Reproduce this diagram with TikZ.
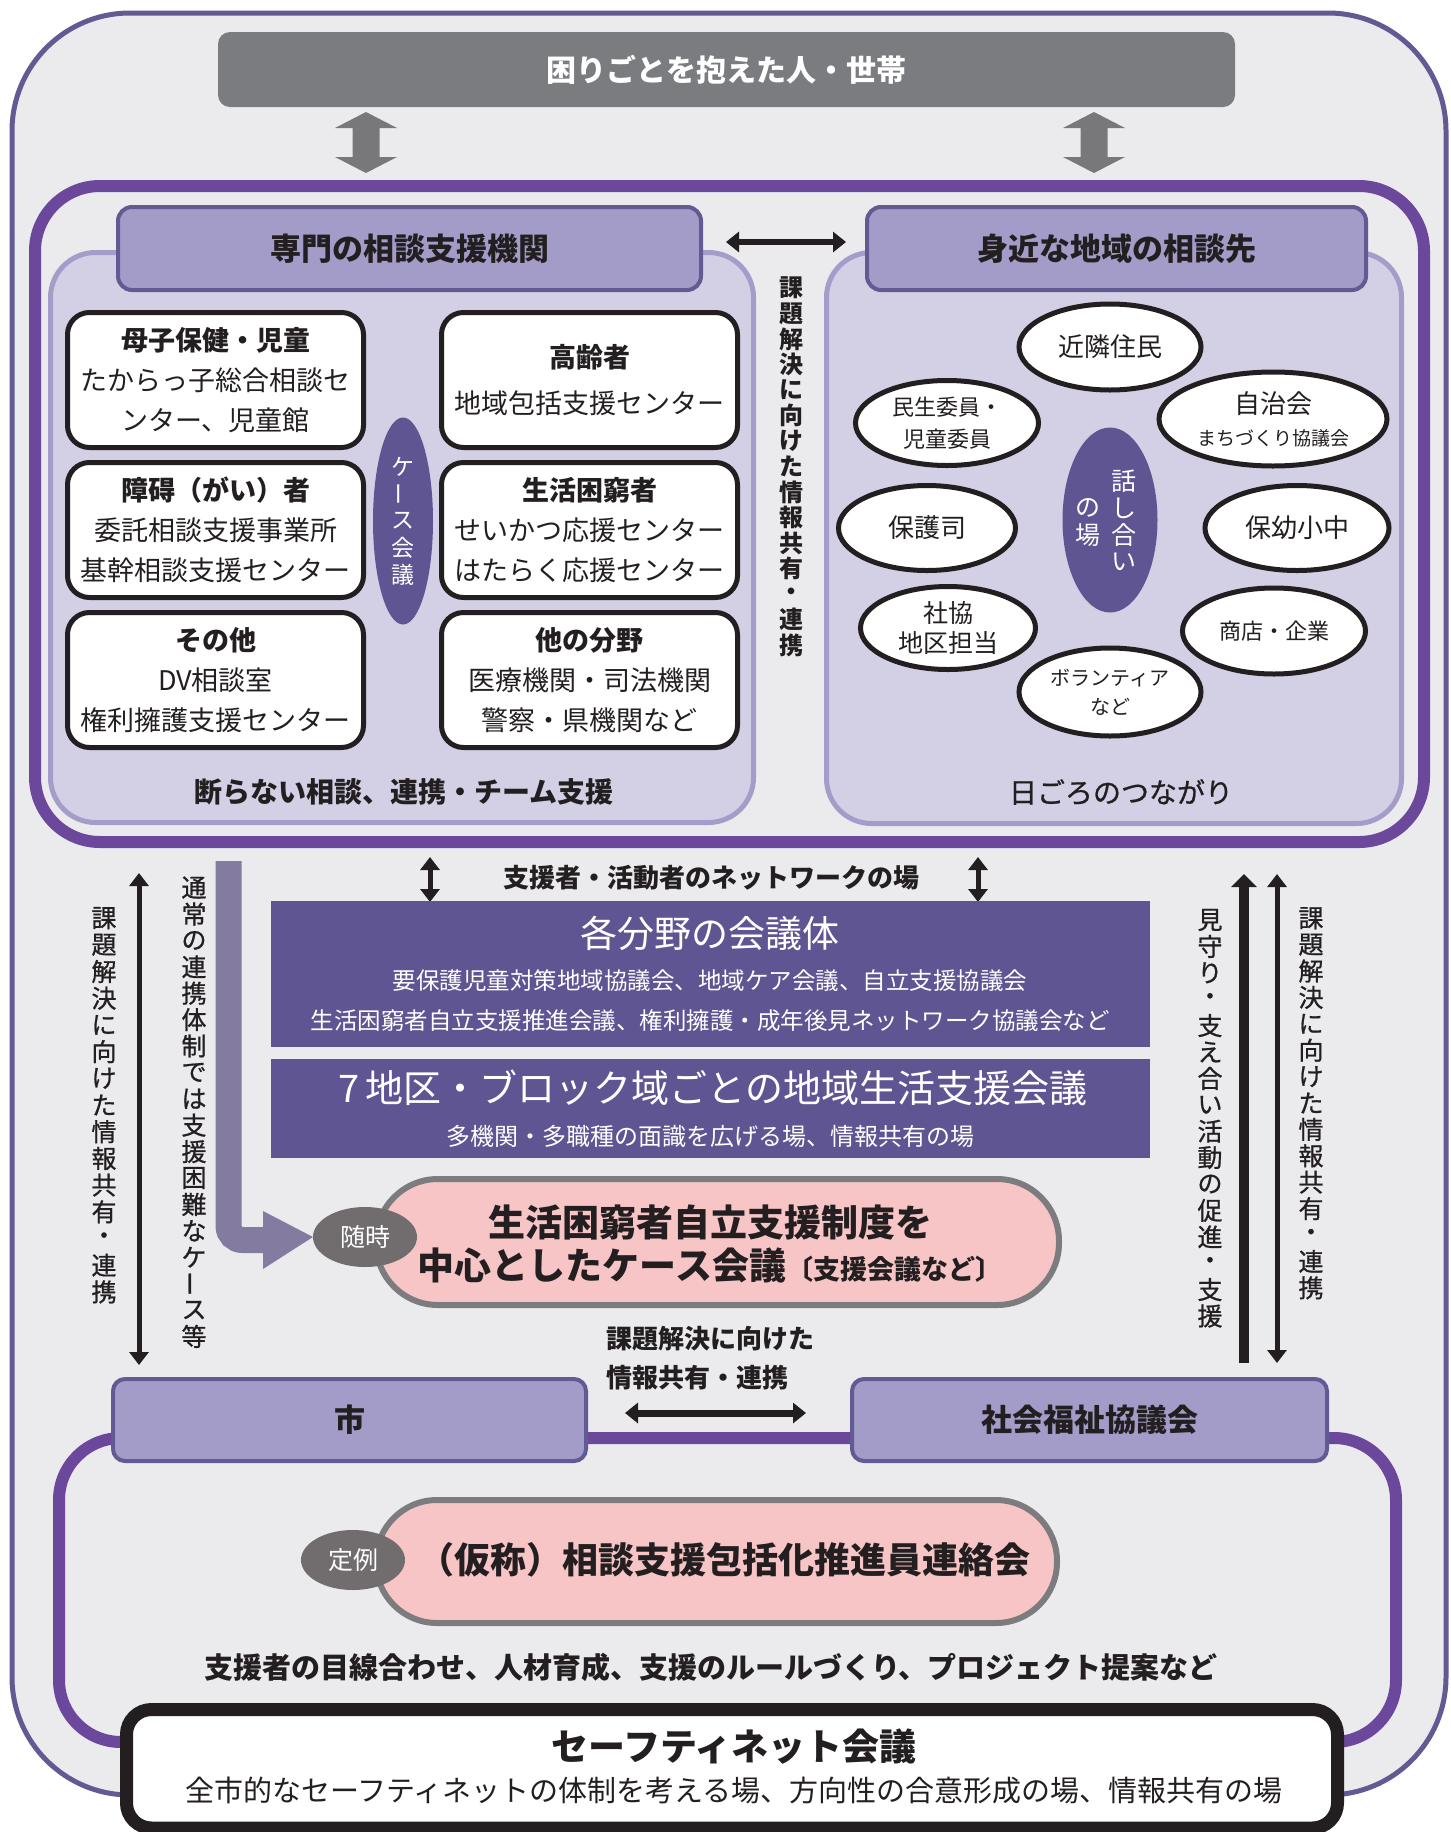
\documentclass[tikz,border=0pt]{standalone}
\usepackage{fontspec}
\usepackage{graphicx}
\setmainfont{Noto Sans CJK JP}
\newfontfamily\medfont{Noto Sans CJK JP}[FakeBold=0.8]
\usetikzlibrary{shapes.geometric,arrows.meta}

\definecolor{bg}{HTML}{EBEBEE}
\definecolor{outerline}{HTML}{615A93}
\definecolor{framep}{HTML}{6B489B}
\definecolor{panelfill}{HTML}{D3D0E6}
\definecolor{panelline}{HTML}{A59DC9}
\definecolor{hdrfill}{HTML}{A49CC8}
\definecolor{hdrline}{HTML}{615A93}
\definecolor{deep}{HTML}{5F5592}
\definecolor{graybox}{HTML}{7B7C80}
\definecolor{grayarrow}{HTML}{78787B}
\definecolor{pinkfill}{HTML}{F8C5C7}
\definecolor{pinkline}{HTML}{7C7C7F}
\definecolor{tagfill}{HTML}{716C6D}
\definecolor{larrow}{HTML}{847BA1}
\definecolor{ink}{HTML}{231F20}

\newcommand\fs[2]{\fontsize{#1}{#2}\selectfont}
\newdimen\vpitch
\def\vtaux#1{\ifx\relax#1\else\hbox to 1.1em{\hss\vbox to\vpitch{\vss\hbox{#1}\vss}\hss}\expandafter\vtaux\fi}
\newcommand\vtext[2]{\vpitch=#1\relax\vbox{\offinterlineskip\vtaux#2\relax}}
\newcommand\vbar{\rotatebox[origin=c]{90}{ー}}
\newcommand\garrow[1]{\fill[grayarrow] (#1,112) -- ++(31,16) -- ++(-17.5,0) -- ++(0,29) -- ++(17.5,0) -- (#1,173) -- ++(-31,-16) -- ++(17.5,0) -- ++(0,-29) -- ++(-17.5,0) -- cycle;}

\tikzset{
 hdr/.style={draw=hdrline, fill=hdrfill, line width=4pt, rounded corners=14pt, font=\bfseries\fs{31}{36}, text=ink},
 wbox/.style={draw=ink, fill=white, line width=5pt, rounded corners=22pt, minimum width=296pt, minimum height=135pt, align=center, font=\fs{27}{40}, text=ink},
 bub/.style={ellipse, draw=ink, fill=white, line width=5pt, align=center, text=ink},
 deepbox/.style={fill=deep, minimum width=879pt},
 pinkbox/.style={draw=pinkline, fill=pinkfill, line width=6pt, rounded corners=62pt},
 tag/.style={ellipse, fill=tagfill, minimum width=104pt, minimum height=60pt, text=white, font=\fs{25}{30}},
 blk/.style={draw=ink, line width=6pt, arrows={Triangle[width=20pt,length=13pt]-Triangle[width=20pt,length=13pt]}},
 blksmall/.style={draw=ink, line width=5pt, arrows={Triangle[width=19pt,length=13pt]-Triangle[width=19pt,length=13pt]}},
 blkup/.style={draw=ink, line width=10pt, arrows={-Triangle[width=25pt,length=13pt]}},
 vt/.style={text=ink, font=\medfont\fs{25}{27}},
 wt/.style={text=white},
 bt/.style={text=ink},
}

\begin{document}
\begin{tikzpicture}[x=1pt,y=-1pt, every node/.style={inner sep=0pt, outer sep=0pt}]
\useasboundingbox (0,0) rectangle (1451,1832);
\fill[white] (0,0) rectangle (1451,1832);

% outer frame
\draw[outerline, line width=5pt, fill=bg, rounded corners=118pt] (12,13) rectangle (1446,1795);

% top box
\node[fill=graybox, rounded corners=12pt, minimum width=1017pt, minimum height=75pt, text=white, font=\bfseries\fs{30}{34}] (people) at (726.5,69.5) {困りごとを抱えた人・世帯};
\garrow{366}
\garrow{1094}

% middle frame
\draw[framep, line width=12pt, rounded corners=65pt, fill=bg] (35,186) rectangle (1424,842);
\draw[panelline, fill=panelfill, line width=5pt, rounded corners=45pt] (50.5,252.5) rectangle (753.5,822.5);
\draw[panelline, fill=panelfill, line width=5pt, rounded corners=45pt] (826.5,252.5) rectangle (1401.5,823.5);

\node[hdr, minimum width=583pt, minimum height=83pt] (hL) at (409.5,248.5) {専門の相談支援機関};
\node[hdr, minimum width=499pt, minimum height=83pt] (hR) at (1116.5,248.5) {身近な地域の相談先};
\coordinate (aL) at (726,242);
\coordinate (aR) at (846,242);
\draw[blk] (aL) -- (aR);

\node[bt, font=\bfseries\fs{24}{26}] (vmid) at (791,466.5) {\vtext{25.5pt}{課題解決に向けた情報共有・連携}};

% left panel boxes
\node[wbox] (b1) at (215.5,380) {{\bfseries 母子保健・児童}\\たからっ子総合相談セ\\ンター、児童館};
\node[wbox] (b2) at (215.5,530) {{\bfseries 障碍（がい）者}\\委託相談支援事業所\\基幹相談支援センター};
\node[wbox] (b3) at (215.5,680) {{\bfseries その他}\\DV相談室\\権利擁護支援センター};
\node[wbox] (b4) at (589.5,380) {{\bfseries 高齢者}\\[6pt]地域包括支援センター};
\node[wbox] (b5) at (589.5,530) {{\bfseries 生活困窮者}\\せいかつ応援センター\\はたらく応援センター};
\node[wbox] (b6) at (589.5,680) {{\bfseries 他の分野}\\医療機関・司法機関\\警察・県機関など};
\node[ellipse, fill=deep, minimum width=60pt, minimum height=207pt, text=white, font=\fs{23}{27}] (case) at (403,521) {\vtext{27pt}{ケ\vbar ス会議}};
\node[bt, font=\bfseries\fs{28}{32}] (leftfoot) at (404,792) {断らない相談、連携・チーム支援};

% right panel bubbles
\node[bub, minimum width=182pt, minimum height=86pt, font=\fs{26}{30}] (e1) at (1110,347) {近隣住民};
\node[bub, minimum width=183pt, minimum height=85pt, font=\fs{22}{32}] (e2) at (947,423) {民生委員・\\児童委員};
\node[bub, minimum width=228pt, minimum height=94pt, font=\fs{22}{32}] (e3) at (1273,419) {{\fs{26}{32}自治会}\\{\fs{19}{32}まちづくり協議会}};
\node[bub, minimum width=177pt, minimum height=85pt, font=\fs{26}{30}] (e4) at (927,528) {保護司};
\node[bub, minimum width=184pt, minimum height=85pt, font=\fs{26}{30}] (e5) at (1297,528) {保幼小中};
\node[bub, minimum width=175pt, minimum height=83pt, font=\fs{25}{30}] (e6) at (948,628) {社協\\地区担当};
\node[bub, minimum width=183pt, minimum height=86pt, font=\fs{22}{26}] (e7) at (1274,631) {商店・企業};
\node[bub, minimum width=182pt, minimum height=88pt, font=\fs{20}{29}] (e8) at (1110,692) {ボランティア\\など};
\node[ellipse, fill=deep, minimum width=95pt, minimum height=185pt] (talk) at (1110,520) {};
\node[wt, font=\fs{25}{27}] (talkA) at (1124,521.5) {\vtext{27pt}{話し合い}};
\node[wt, font=\fs{25}{27}] (talkB) at (1088,521.5) {\vtext{27pt}{の場}};
\node[bt, font=\medfont\fs{28}{32}] (rightfoot) at (1121,792) {日ごろのつながり};

% middle section
\coordinate (s1a) at (430,857); \coordinate (s1b) at (430,902);
\coordinate (s2a) at (978,857); \coordinate (s2b) at (978,902);
\draw[blksmall] (s1a) -- (s1b);
\draw[blksmall] (s2a) -- (s2b);
\node[bt, font=\bfseries\fs{26}{30}] (net) at (711,878) {支援者・活動者のネットワークの場};

\node[deepbox, minimum height=146pt] (kaigi) at (710.5,974) {};
\node[wt, font=\fs{37}{40}] (kaigiT) at (710,933) {各分野の会議体};
\node[wt, font=\fs{23.5}{40}, align=center] (kaigiS) at (710,1001) {要保護児童対策地域協議会、地域ケア会議、自立支援協議会\\生活困窮者自立支援推進会議、権利擁護・成年後見ネットワーク協議会など};

\node[deepbox, minimum height=99pt] (chiku) at (710.5,1108.5) {};
\node[wt, font=\fs{38}{40}] (chikuT) at (713,1088) {7\,地区・ブロック域ごとの地域生活支援会議};
\node[wt, font=\fs{24}{28}] (chikuS) at (710,1136) {多機関・多職種の面識を広げる場、情報共有の場};

\node[pinkbox, minimum width=683pt, minimum height=126pt] (casemeet) at (717.5,1242) {};
\node[bt, font=\bfseries\fs{37}{43}, align=center] (casemeetT) at (710,1243.5) {生活困窮者自立支援制度を\\中心としたケース会議{\fs{27}{43}〔支援会議など〕}};
\node[tag] (zuiji) at (365,1237) {随時};

\coordinate (L0) at (228.5,861);
\coordinate (L1) at (228.5,1240);
\coordinate (L2) at (266,1240);
\draw[larrow, line width=26pt, rounded corners=14pt] (L0) -- (L1) -- (L2);
\fill[larrow] (263,1211) -- (zuiji.west) -- (263,1269) -- cycle;

\node[vt] (v1) at (104,1105) {\vtext{26.7pt}{課題解決に向けた情報共有・連携}};
\node[vt] (v2) at (194,1112) {\vtext{26.4pt}{通常の連携体制では支援困難なケ\vbar ス等}};
\node[vt] (v3) at (1210,1118) {\vtext{26.4pt}{見守り・支え合い活動の促進・支援}};
\node[vt] (v4) at (1311,1103) {\vtext{26.4pt}{課題解決に向けた情報共有・連携}};

\coordinate (la1) at (139,873); \coordinate (la2) at (139,1365);
\draw[blksmall] (la1) -- (la2);
\coordinate (ua1) at (1244,1363); \coordinate (ua2) at (1244,874);
\draw[blkup] (ua1) -- (ua2);
\coordinate (ra1) at (1277,874); \coordinate (ra2) at (1277,1363);
\draw[blksmall] (ra1) -- (ra2);

% bottom section
\draw[framep, line width=12pt, rounded corners=62pt, fill=bg] (59,1438) rectangle (1396,1742);
\node[hdr, minimum width=473pt, minimum height=82pt, rounded corners=12pt] (city) at (349.5,1420) {市};
\node[hdr, minimum width=475pt, minimum height=82pt, rounded corners=12pt] (csw) at (1089.5,1420) {社会福祉協議会};
\coordinate (ba1) at (625,1413); \coordinate (ba2) at (806,1413);
\draw[blk, line width=7pt] (ba1) -- (ba2);
\node[bt, font=\bfseries\fs{26}{39}, align=left, anchor=west] (botlabel) at (606,1358.5) {課題解決に向けた\\情報共有・連携};

\node[pinkbox, minimum width=681pt, minimum height=123pt, rounded corners=61pt] (suishin) at (716.5,1561.5) {};
\node[bt, font=\bfseries\fs{36}{40}] (suishinT) at (724,1560) {（仮称）相談支援包括化推進員連絡会};
\node[tag] (teirei) at (353,1560) {定例};
\node[bt, font=\bfseries\fs{29}{32}] (aims) at (711,1667) {支援者の目線合わせ、人材育成、支援のルールづくり、プロジェクト提案など};

\node[draw=ink, fill=white, line width=13pt, rounded corners=25pt, minimum width=1211pt, minimum height=118.5pt] (safety) at (732,1768.75) {};
\node[bt, font=\bfseries\fs{37}{40}] (safetyT) at (734,1747) {セーフティネット会議};
\node[bt, font=\fs{29}{32}] (safetyS) at (734,1790) {全市的なセーフティネットの体制を考える場、方向性の合意形成の場、情報共有の場};
\end{tikzpicture}
\end{document}
